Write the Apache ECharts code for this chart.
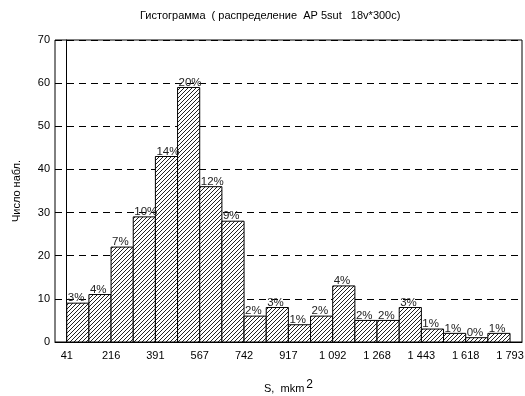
<!DOCTYPE html>
<html><head><meta charset="utf-8">
<script src="https://cdn.jsdelivr.net/npm/echarts@6/dist/echarts.min.js"></script>
<style>html,body{margin:0;padding:0;background:#fff}#c{width:525px;height:396px}</style>
</head><body><div id="c"></div>
<script>
// Histogram bins (index of bin, 20 bins from 41 to 1793)
const counts = [9, 11, 22, 29, 43, 59, 36, 28, 6, 8, 4, 6, 13, 5, 5, 8, 3, 2, 1, 2];
const pctLabels = ['3%','4%','7%','10%','14%','20%','12%','9%','2%','3%','1%','2%','4%','2%','2%','3%','1%','1%','0%','1%'];
const xTickLabels = ['41','216','391','567','742','917','1 092','1 268','1 443','1 618','1 793'];
const xTickPositions = [0,2,4,6,8,10,12,14,16,18,20];

const FONT = '"Liberation Sans", Arial, sans-serif';

// hatch pattern
const cv = document.createElement('canvas');
cv.width = 4; cv.height = 4;
const cx = cv.getContext('2d');
cx.fillStyle = '#fff'; cx.fillRect(0,0,4,4);
cx.strokeStyle = '#222'; cx.lineWidth = 1;
cx.beginPath();
cx.moveTo(-1,5); cx.lineTo(5,-1);
cx.moveTo(-3,3); cx.lineTo(3,-3);
cx.moveTo(1,7); cx.lineTo(7,1);
cx.stroke();

const data = counts.map((v,i)=>[i, v]);

const chart = echarts.init(document.getElementById('c'), null, {renderer:'canvas'});
chart.setOption({
  animation:false,
  backgroundColor:'#fff',
  title:{
    text:'Гистограмма  ( распределение  AP 5sut   18v*300c)',
    left:135, top:4,
    textStyle:{fontFamily:FONT, fontSize:11, fontWeight:'normal', color:'#000', lineHeight:13}
  },
  grid:{left:55, right:3, top:40, bottom:54, outerBoundsMode:'none', containLabel:false,
        show:true, borderColor:'#000', borderWidth:1, backgroundColor:'#fff'},
  xAxis:{
    type:'value', min:-0.53, max:20.54,
    axisLine:{show:true, lineStyle:{color:'#000', width:1}},
    axisTick:{show:false},
    splitLine:{show:false},
    axisLabel:{
      customValues: xTickPositions,
      formatter:(v)=>{ const k = xTickPositions.indexOf(Math.round(v)); return k>=0 ? xTickLabels[k] : ''; },
      fontFamily:FONT, fontSize:11, color:'#000', margin:8
    },
    name:'S,  mkm{sup|2}',
    nameLocation:'middle', nameGap:37,
    nameTextStyle:{fontFamily:FONT, fontSize:11, color:'#000',
      rich:{sup:{fontFamily:FONT, fontSize:12, color:'#000', verticalAlign:'top', padding:[0,0,8,2]}}}
  },
  yAxis:{
    type:'value', min:0, max:70, interval:10,
    axisLine:{show:true, lineStyle:{color:'#000', width:1}},
    axisTick:{show:true, inside:true, length:4, lineStyle:{color:'#000'}},
    splitLine:{show:true, lineStyle:{color:'#000', type:[7,5], width:1}},
    axisLabel:{fontFamily:FONT, fontSize:11, color:'#000', margin:5},
    name:'Число набл.', nameLocation:'middle', nameGap:33, nameRotate:90,
    nameTextStyle:{fontFamily:FONT, fontSize:11, color:'#000'}
  },
  series:[{
    type:'custom',
    data:data,
    encode:{x:0, y:1},
    renderItem:(params, api)=>{
      const i = api.value(0), v = api.value(1);
      const p0 = api.coord([i, 0]);
      const p1 = api.coord([i+1, v]);
      return {type:'group', children:[
        {type:'rect', shape:{x:p0[0], y:p1[1], width:p1[0]-p0[0], height:p0[1]-p1[1]},
         style:{fill:{image:cv, repeat:'repeat'}, stroke:'#000', lineWidth:1}},
        {type:'text', z2:10, style:{text:pctLabels[i], x:p0[0]+1, y:p1[1]+1, align:'left', verticalAlign:'bottom',
          font:'11.5px ' + FONT, fill:'#222'}}
      ]};
    }
  }]
});
</script></body></html>
